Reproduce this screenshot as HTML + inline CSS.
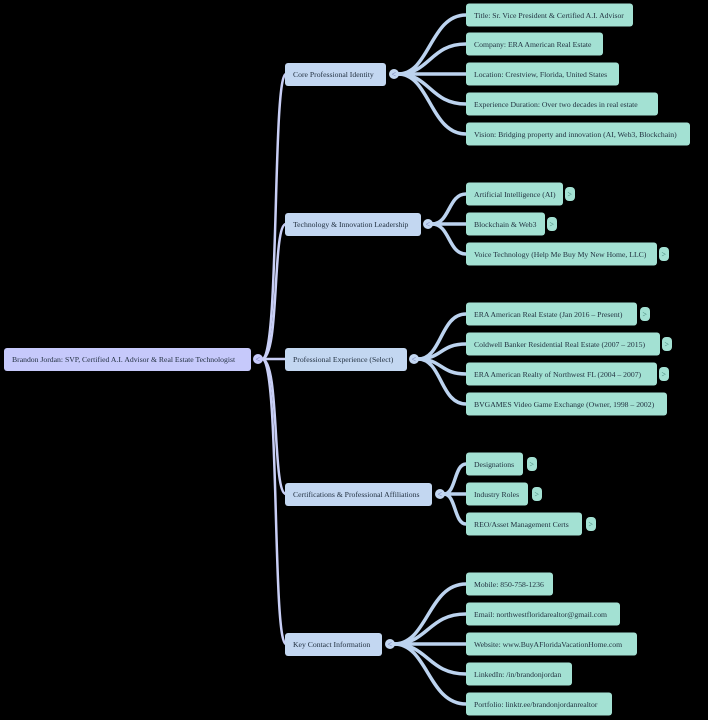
<!DOCTYPE html>
<html><head><meta charset="utf-8"><style>
html,body{margin:0;padding:0;background:#000;}
svg{display:block}
text{font-family:"Liberation Serif",serif;font-size:7.7px;fill:#1f2d3d}
.e1{fill:none;stroke:#c9cff6;stroke-width:2.5}
.e2{fill:none;stroke:#bcd3ef;stroke-width:3.5}
.r{fill:#c6c9fb}
.m{fill:#c3d7f1}
.l{fill:#a3e1d3}
.tg{fill:#a3e1d3}
.tt{font-size:8px;fill:#3f7f74}
.tr{font-size:8px;fill:#6a72b0}
.tb{fill:#c3d7f1}
</style></head><body>
<svg width="708" height="720" viewBox="0 0 708 720" xmlns="http://www.w3.org/2000/svg">
<path class="e1" d="M262,359 C280,359 272,74 286,74"/>
<path class="e1" d="M262,359 C280,359 272,224 286,224"/>
<path class="e1" d="M262,359 L286,359"/>
<path class="e1" d="M262,359 C280,359 272,494 286,494"/>
<path class="e1" d="M262,359 C280,359 272,644 286,644"/>
<path class="e2" d="M398,74 C430,74 430,15 466,15"/>
<path class="e2" d="M398,74 C430,74 430,44 466,44"/>
<path class="e2" d="M398,74 L466,74"/>
<path class="e2" d="M398,74 C430,74 430,104 466,104"/>
<path class="e2" d="M398,74 C430,74 430,134 466,134"/>
<path class="e2" d="M432,224 C450,224 448,194 466,194"/>
<path class="e2" d="M432,224 L466,224"/>
<path class="e2" d="M432,224 C450,224 448,254 466,254"/>
<path class="e2" d="M418,359 C442,359 440,314 466,314"/>
<path class="e2" d="M418,359 C442,359 440,344 466,344"/>
<path class="e2" d="M418,359 C442,359 440,374 466,374"/>
<path class="e2" d="M418,359 C442,359 440,404 466,404"/>
<path class="e2" d="M444,494 C456,494 454,464 466,464"/>
<path class="e2" d="M444,494 L466,494"/>
<path class="e2" d="M444,494 C456,494 454,524 466,524"/>
<path class="e2" d="M394,644 C428,644 428,584 466,584"/>
<path class="e2" d="M394,644 C428,644 428,614 466,614"/>
<path class="e2" d="M394,644 L466,644"/>
<path class="e2" d="M394,644 C428,644 428,674 466,674"/>
<path class="e2" d="M394,644 C428,644 428,704 466,704"/>

<rect class="r" x="4" y="348" width="247" height="23" rx="3"/>
<text x="12" y="362">Brandon Jordan: SVP, Certified A.I. Advisor &amp; Real Estate Technologist</text>
<circle cx="258" cy="359" r="5" class="r"/><text class="tr" x="255.5" y="362">&lt;</text>

<rect class="m" x="285" y="63" width="101" height="23" rx="3"/><text x="293" y="77">Core Professional Identity</text>
<circle cx="394" cy="74" r="5" class="tb"/><text class="tr" x="391.5" y="77">&lt;</text>
<rect class="m" x="285" y="213" width="136" height="23" rx="3"/><text x="293" y="227">Technology &amp; Innovation Leadership</text>
<circle cx="428" cy="224" r="5" class="tb"/><text class="tr" x="425.5" y="227">&lt;</text>
<rect class="m" x="285" y="348" width="122" height="23" rx="3"/><text x="293" y="362">Professional Experience (Select)</text>
<circle cx="414" cy="359" r="5" class="tb"/><text class="tr" x="411.5" y="362">&lt;</text>
<rect class="m" x="285" y="483" width="147" height="23" rx="3"/><text x="293" y="497">Certifications &amp; Professional Affiliations</text>
<circle cx="440" cy="494" r="5" class="tb"/><text class="tr" x="437.5" y="497">&lt;</text>
<rect class="m" x="285" y="633" width="97" height="23" rx="3"/><text x="293" y="647">Key Contact Information</text>
<circle cx="390" cy="644" r="5" class="tb"/><text class="tr" x="387.5" y="647">&lt;</text>

<rect class="l" x="466" y="3.5" width="167" height="23" rx="3"/><text x="474" y="18">Title: Sr. Vice President &amp; Certified A.I. Advisor</text>
<rect class="l" x="466" y="32.5" width="137" height="23" rx="3"/><text x="474" y="47">Company: ERA American Real Estate</text>
<rect class="l" x="466" y="62.5" width="153" height="23" rx="3"/><text x="474" y="77">Location: Crestview, Florida, United States</text>
<rect class="l" x="466" y="92.5" width="192" height="23" rx="3"/><text x="474" y="107">Experience Duration: Over two decades in real estate</text>
<rect class="l" x="466" y="122.5" width="224" height="23" rx="3"/><text x="474" y="137">Vision: Bridging property and innovation (AI, Web3, Blockchain)</text>

<rect class="l" x="466" y="182.5" width="97" height="23" rx="3"/><text x="474" y="197">Artificial Intelligence (AI)</text>
<rect class="tg" x="565" y="187" width="10" height="14" rx="4"/><text class="tt" x="567.5" y="197">&gt;</text>
<rect class="l" x="466" y="212.5" width="79" height="23" rx="3"/><text x="474" y="227">Blockchain &amp; Web3</text>
<rect class="tg" x="547" y="217" width="10" height="14" rx="4"/><text class="tt" x="549.5" y="227">&gt;</text>
<rect class="l" x="466" y="242.5" width="191" height="23" rx="3"/><text x="474" y="257">Voice Technology (Help Me Buy My New Home, LLC)</text>
<rect class="tg" x="659" y="247" width="10" height="14" rx="4"/><text class="tt" x="661.5" y="257">&gt;</text>

<rect class="l" x="466" y="302.5" width="171" height="23" rx="3"/><text x="474" y="317">ERA American Real Estate (Jan 2016 – Present)</text>
<rect class="tg" x="640" y="307" width="10" height="14" rx="4"/><text class="tt" x="642.5" y="317">&gt;</text>
<rect class="l" x="466" y="332.5" width="194" height="23" rx="3"/><text x="474" y="347">Coldwell Banker Residential Real Estate (2007 – 2015)</text>
<rect class="tg" x="662" y="337" width="10" height="14" rx="4"/><text class="tt" x="664.5" y="347">&gt;</text>
<rect class="l" x="466" y="362.5" width="191" height="23" rx="3"/><text x="474" y="377">ERA American Realty of Northwest FL (2004 – 2007)</text>
<rect class="tg" x="659" y="367" width="10" height="14" rx="4"/><text class="tt" x="661.5" y="377">&gt;</text>
<rect class="l" x="466" y="392.5" width="201" height="23" rx="3"/><text x="474" y="407">BVGAMES Video Game Exchange (Owner, 1998 – 2002)</text>

<rect class="l" x="466" y="452.5" width="57" height="23" rx="3"/><text x="474" y="467">Designations</text>
<rect class="tg" x="527" y="457" width="10" height="14" rx="4"/><text class="tt" x="529.5" y="467">&gt;</text>
<rect class="l" x="466" y="482.5" width="62" height="23" rx="3"/><text x="474" y="497">Industry Roles</text>
<rect class="tg" x="532" y="487" width="10" height="14" rx="4"/><text class="tt" x="534.5" y="497">&gt;</text>
<rect class="l" x="466" y="512.5" width="116" height="23" rx="3"/><text x="474" y="527">REO/Asset Management Certs</text>
<rect class="tg" x="586" y="517" width="10" height="14" rx="4"/><text class="tt" x="588.5" y="527">&gt;</text>

<rect class="l" x="466" y="572.5" width="87" height="23" rx="3"/><text x="474" y="587">Mobile: 850-758-1236</text>
<rect class="l" x="466" y="602.5" width="154" height="23" rx="3"/><text x="474" y="617">Email: northwestfloridarealtor@gmail.com</text>
<rect class="l" x="466" y="632.5" width="171" height="23" rx="3"/><text x="474" y="647">Website: www.BuyAFloridaVacationHome.com</text>
<rect class="l" x="466" y="662.5" width="106" height="23" rx="3"/><text x="474" y="677">LinkedIn: /in/brandonjordan</text>
<rect class="l" x="466" y="692.5" width="146" height="23" rx="3"/><text x="474" y="707">Portfolio: linktr.ee/brandonjordanrealtor</text>
</svg>
</body></html>
